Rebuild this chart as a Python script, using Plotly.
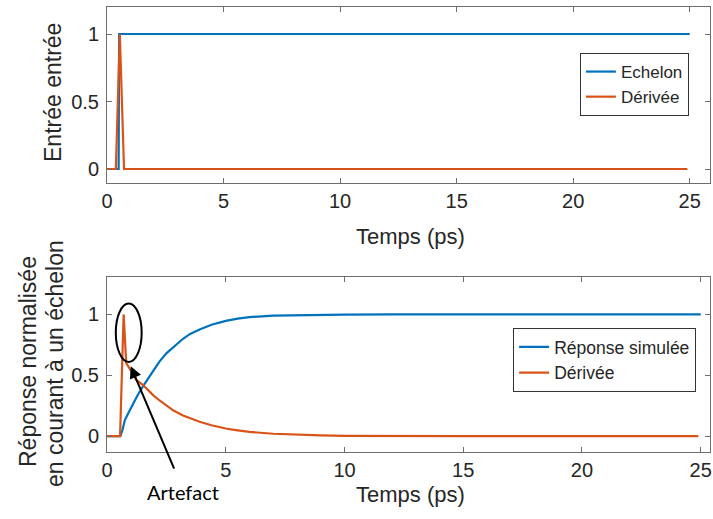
import plotly.graph_objects as go

# ---- data ----
# top panel: input step and its derivative
t_step = [0, 0.5, 0.52, 25.0]
step = [0, 0, 1, 1]
t_step_der = [0, 0.38, 0.55, 0.73, 24.9]
step_der = [0, 0, 1, 0, 0]

# bottom panel: simulated normalised response and its derivative
t_resp = [0, 0.56, 0.65, 0.75, 0.9, 1.1, 1.3, 1.5, 1.75, 1.95, 2.2, 2.5, 2.8, 3.2, 3.5, 3.9,
          4.4, 5, 5.5, 6, 7, 8, 9, 10, 12, 15, 20, 25]
resp = [0, 0, 0.05, 0.13, 0.19, 0.27, 0.34, 0.405, 0.48, 0.54, 0.61, 0.68, 0.735, 0.80, 0.84, 0.877,
        0.915, 0.947, 0.965, 0.978, 0.99, 0.995, 0.998, 0.999, 1, 1, 1, 1]
t_der = [0, 0.55, 0.70, 0.81, 0.95, 1.1, 1.24, 1.52, 1.75, 1.94, 2.2, 2.5, 2.8, 3.2, 3.5, 3.9,
         4.4, 5, 5.5, 6, 7, 8, 9, 10, 12, 15, 20, 24.9]
der = [0, 0, 1.0, 0.60, 0.556, 0.50, 0.46, 0.42, 0.375, 0.337, 0.295, 0.255, 0.21, 0.17, 0.145, 0.118,
       0.09, 0.063, 0.048, 0.035, 0.02, 0.01, 0.006, 0.003, 0.001, 0, 0, 0]

x_ticks = [0, 5, 10, 15, 20, 25]
y_ticks = [0, 0.5, 1]
y_ticktext = ["0", "0.5", "1"]

BLUE = "#0072BD"
ORANGE = "#D95319"
TXT = "#262626"
AX = "#6e6e6e"
FONT = "Liberation Sans, Arial, sans-serif"

fig = go.Figure()
fig.add_trace(go.Scatter(x=t_step, y=step, mode="lines", name="Echelon",
                         line=dict(color=BLUE, width=2.2), xaxis="x", yaxis="y", legend="legend"))
fig.add_trace(go.Scatter(x=t_step_der, y=step_der, mode="lines", name="Dérivée",
                         line=dict(color=ORANGE, width=2.2), xaxis="x", yaxis="y", legend="legend"))
fig.add_trace(go.Scatter(x=t_resp, y=resp, mode="lines", name="Réponse simulée",
                         line=dict(color=BLUE, width=2.2), xaxis="x2", yaxis="y2", legend="legend2"))
fig.add_trace(go.Scatter(x=t_der, y=der, mode="lines", name="Dérivée",
                         line=dict(color=ORANGE, width=2.2), xaxis="x2", yaxis="y2", legend="legend2"))

axcommon = dict(showline=True, linecolor=AX, linewidth=1, mirror="ticks", ticks="inside",
                ticklen=5, tickcolor=AX, showgrid=False, zeroline=False, automargin=False,
                tickfont=dict(family=FONT, size=20, color=TXT))

fig.update_layout(
    width=713, height=519,
    margin=dict(l=107, r=3, t=7, b=67, autoexpand=False),
    paper_bgcolor="white", plot_bgcolor="white",
    font=dict(family=FONT, color=TXT),
    xaxis=dict(domain=[0, 1], anchor="y", range=[0, 25.87], tickvals=x_ticks,
               ticklabelstandoff=0, **axcommon),
    yaxis=dict(domain=[0.6056, 1], anchor="x", range=[-0.1, 1.2], tickvals=y_ticks,
               ticktext=y_ticktext, ticklabelstandoff=3, **axcommon),
    xaxis2=dict(domain=[0, 1], anchor="y2", range=[0, 25.39], tickvals=x_ticks,
                ticklabelstandoff=0, **axcommon),
    yaxis2=dict(domain=[0, 0.394], anchor="x2", range=[-0.13, 1.31], tickvals=y_ticks,
                ticktext=y_ticktext, ticklabelstandoff=3, **axcommon),
    legend=dict(x=0.965, y=0.8966, xanchor="right", yanchor="top",
                bordercolor="#333333", borderwidth=1, bgcolor="white", tracegroupgap=0,
                font=dict(family=FONT, size=17, color=TXT)),
    legend2=dict(x=0.977, y=0.2787, xanchor="right", yanchor="top",
                 bordercolor="#333333", borderwidth=1, bgcolor="white", tracegroupgap=0,
                 font=dict(family=FONT, size=17.5, color=TXT)),
    showlegend=True,
)

# axis titles as text
H = 445.0
def py(pix):
    return (452.0 - pix) / H
def px(pix):
    return (pix - 107.0) / 603.0

ann = [
    dict(text="Entrée entrée", x=px(53), y=py(93), textangle=-90, font=dict(size=23)),
    dict(text="Réponse normalisée", x=px(28), y=py(362), textangle=-90, font=dict(size=23)),
    dict(text="en courant à un échelon", x=px(55), y=py(364), textangle=-90, font=dict(size=23)),
    dict(text="Temps (ps)", x=px(410), y=py(237), font=dict(size=22)),
    dict(text="Temps (ps)", x=px(410), y=py(494), font=dict(size=22)),
    dict(text="Artefact", x=px(183), y=py(492), font=dict(size=20, family="Lato, Open Sans, sans-serif", color="black")),
]
for a in ann:
    a.update(xref="paper", yref="paper", showarrow=False, xanchor="center", yanchor="middle")
    a["font"].setdefault("family", FONT)
    a["font"].setdefault("color", TXT)
    fig.add_annotation(**a)

# arrow pointing to the artefact
fig.add_annotation(x=1.0, y=0.575, xref="x2", yref="y2", text="", showarrow=True,
                   ax=44, ay=104, axref="pixel", ayref="pixel",
                   arrowhead=2, arrowsize=1.2, arrowwidth=2, arrowcolor="black")

# ellipse around the artefact
fig.add_shape(type="circle", xref="x2", yref="y2", x0=0.37, x1=1.46, y0=0.61, y1=1.09,
              line=dict(color="black", width=2))

fig.write_html("out.html", config={"displayModeBar": False},
               post_script="document.body.style.margin='0px';")
